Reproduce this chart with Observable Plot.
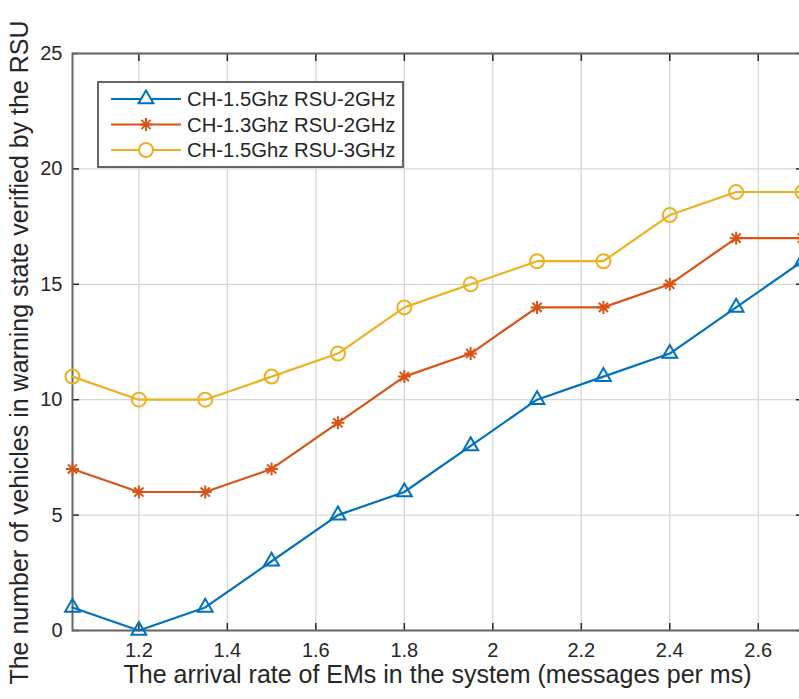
<!DOCTYPE html>
<html>
<head>
<meta charset="utf-8">
<script src="https://cdn.jsdelivr.net/npm/d3@7"></script>
<script src="https://cdn.jsdelivr.net/npm/@observablehq/plot@0.6"></script>
<style>
  html, body { margin: 0; padding: 0; background: #fff; }
  #chart { width: 799px; height: 699px; overflow: hidden; }
  svg { font-family: "Liberation Sans", Arial, Helvetica, sans-serif; }
</style>
</head>
<body>
<div id="chart"></div>
<script>
// ---- data ----
const xValues = [1.05, 1.2, 1.35, 1.5, 1.65, 1.8, 1.95, 2.1, 2.25, 2.4, 2.55, 2.7];
const seriesNames = ["CH-1.5Ghz RSU-2GHz", "CH-1.3Ghz RSU-2GHz", "CH-1.5Ghz RSU-3GHz"];
const blueValues = [1, 0, 1, 3, 5, 6, 8, 10, 11, 12, 14, 16];
const redValues = [7, 6, 6, 7, 9, 11, 12, 14, 14, 15, 17, 17];
const yellowValues = [11, 10, 10, 11, 12, 14, 15, 16, 16, 18, 19, 19];
const xTicks = [1.2, 1.4, 1.6, 1.8, 2, 2.2, 2.4, 2.6];
const yTicks = [0, 5, 10, 15, 20, 25];
const xLabel = "The arrival rate of EMs in the system (messages per ms)";
const yLabel = "The number of vehicles in warning state verified by the RSU";

// ---- styles ----
const colors = ["#0072BD", "#D95319", "#EDB120"];
const asterisk8 = {
  draw(context, size) {
    const r = Math.sqrt(size / Math.PI);
    const d = r * Math.SQRT1_2;
    context.moveTo(-r, 0); context.lineTo(r, 0);
    context.moveTo(0, -r); context.lineTo(0, r);
    context.moveTo(-d, -d); context.lineTo(d, d);
    context.moveTo(-d, d); context.lineTo(d, -d);
  }
};
const symbols = [d3.symbolTriangle, asterisk8, d3.symbolCircle];
const radii = [5.5, 6.5, 7];

const valueArrays = [blueValues, redValues, yellowValues];
const rows = [];
valueArrays.forEach((vals, i) => {
  vals.forEach((v, j) => rows.push({series: seriesNames[i], x: xValues[j], y: v}));
});

const textColor = "#262626";
const frameColor = "#666";

const marks = [
  Plot.gridX(xTicks, {stroke: "#d6d6d6", strokeOpacity: 1, strokeWidth: 1.3}),
  Plot.gridY(yTicks, {stroke: "#d6d6d6", strokeOpacity: 1, strokeWidth: 1.3}),
  Plot.axisX({ticks: xTicks, tickSize: -7, tickPadding: 19, tickFormat: d => String(d), fontSize: 20, fill: textColor, stroke: textColor, strokeWidth: 1.5, label: null}),
  Plot.axisX({anchor: "top", ticks: xTicks, tickSize: -7, tickFormat: () => "", label: null, stroke: textColor, strokeWidth: 1.5}),
  Plot.axisY({ticks: yTicks, tickSize: -7, tickPadding: 17, fontSize: 20, fill: textColor, stroke: textColor, strokeWidth: 1.5, label: null}),
  Plot.axisY({anchor: "right", ticks: yTicks, tickSize: -7, tickFormat: () => "", label: null, stroke: textColor, strokeWidth: 1.5}),
  Plot.frame({stroke: frameColor, strokeWidth: 2}),
  Plot.text([xLabel], {text: d => d, frameAnchor: "bottom", textAnchor: "middle", dy: 52, fontSize: 25, fill: textColor}),
  Plot.text([yLabel], {text: d => d, frameAnchor: "left", textAnchor: "middle", rotate: -90, dx: -53, dy: 10.5, fontSize: 25, fill: textColor}),
  Plot.line(rows, {x: "x", y: "y", z: "series", stroke: "series", strokeWidth: 2.2})
];
seriesNames.forEach((name, i) => {
  marks.push(Plot.dot(rows.filter(d => d.series === name), {
    x: "x", y: "y", symbol: () => symbols[i], r: radii[i], stroke: colors[i], fill: "none", strokeWidth: 2
  }));
});

const plot = Plot.plot({
  width: 799,
  height: 699,
  marginLeft: 72,
  marginRight: -3,
  marginTop: 53,
  marginBottom: 69,
  style: {fontFamily: "'Liberation Sans', Arial, sans-serif", fontSize: "20px", color: textColor, background: "#fff", overflow: "hidden"},
  x: {domain: [1.05, 2.7]},
  y: {domain: [0, 25]},
  color: {domain: seriesNames, range: colors},
  symbol: {type: "identity"},
  marks
});
document.getElementById("chart").appendChild(plot);

// ---- legend (inside plot, top-left) ----
const svg = d3.select(plot);
const lg = svg.append("g").attr("class", "legend");
lg.append("rect").attr("x", 98).attr("y", 82).attr("width", 305).attr("height", 85)
  .attr("fill", "#fff").attr("stroke", frameColor).attr("stroke-width", 2);
seriesNames.forEach((name, i) => {
  const cy = 99 + i * 25.5;
  lg.append("line").attr("x1", 111).attr("x2", 181).attr("y1", cy).attr("y2", cy)
    .attr("stroke", colors[i]).attr("stroke-width", 2.2);
  lg.append("path").attr("transform", `translate(146,${cy})`)
    .attr("d", d3.symbol(symbols[i], radii[i] * radii[i] * Math.PI)())
    .attr("fill", "#fff").attr("stroke", colors[i]).attr("stroke-width", 2);
  lg.append("text").attr("x", 187).attr("y", cy).attr("dy", "0.35em")
    .attr("text-anchor", "start")
    .attr("fill", textColor).attr("font-size", 20.3).text(name);
});
</script>
</body>
</html>
